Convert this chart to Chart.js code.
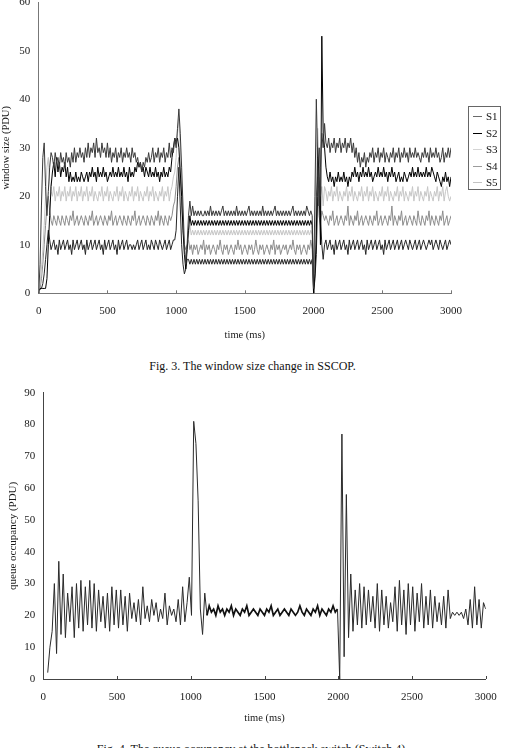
<!DOCTYPE html>
<html><head><meta charset="utf-8">
<script src="https://cdn.jsdelivr.net/npm/chart.js@4.4.1/dist/chart.umd.min.js"></script>
<style>
html,body{margin:0;padding:0;background:#fff;}
body{width:505px;height:748px;position:relative;overflow:hidden;font-family:"Liberation Serif","Times New Roman",serif;color:#111;}
canvas{position:absolute;left:0;}
#c1{top:0;}
#c2{top:380px;}
.cap{position:absolute;left:0;width:505px;text-align:center;font-size:12px;line-height:14px;white-space:nowrap;}
#legend{position:absolute;left:468px;top:106px;width:33px;height:84px;border:1px solid #666;box-sizing:border-box;}
.li{position:absolute;left:0;width:31px;height:16px;font-size:11px;line-height:16px;}
.sw{position:absolute;left:4px;top:8px;width:9px;height:1px;}
.lt{position:absolute;left:17px;top:0;}
</style></head>
<body>
<canvas id="c1" width="505" height="345"></canvas>
<div id="legend"></div>
<div class="cap" style="top:359px;">Fig. 3. The window size change in SSCOP.</div>
<canvas id="c2" width="505" height="350"></canvas>
<div class="cap" style="top:742px;">Fig. 4. The queue occupancy at the bottleneck switch (Switch 4).</div>
<script>
// ---- sampling grids (ms) ----
const stepTop = 10;    // window-size samples, 0..3000
const stepQueue = 15;  // queue samples, 0..3000
const timesTop = Array.from({length: 301}, (_, i) => i * stepTop);
const timesQueue = Array.from({length: 201}, (_, i) => i * stepQueue);

const seriesNames = ['S1', 'S2', 'S3', 'S4', 'S5'];

// ---- Fig. 3 window sizes (PDU), one row = 200 ms ----
const s1 = [
 0, 6, 18, 28, 31, 22, 16, 21, 26, 29, 28, 26, 29, 27, 28, 26, 29, 27, 28, 26,
 29, 27, 28, 26, 29, 27, 30, 27, 29, 28, 30, 28, 29, 27, 30, 28, 31, 28, 30, 29,
 31, 28, 32, 29, 30, 28, 31, 29, 30, 28, 31, 28, 30, 27, 29, 28, 30, 27, 29, 28,
 30, 27, 29, 28, 30, 28, 29, 27, 30, 28, 29, 27, 28, 26, 27, 25, 27, 26, 28, 27,
 29, 27, 28, 30, 27, 29, 28, 30, 27, 29, 28, 30, 27, 29, 28, 31, 28, 30, 29, 32,
 30, 34, 38, 33, 26, 18, 10, 6, 10, 16, 19, 16, 18, 16, 17, 16, 17, 16, 17, 16,
 16, 17, 16, 17, 16, 18, 16, 17, 16, 17, 16, 17, 16, 17, 18, 16, 17, 16, 17, 16,
 17, 16, 17, 16, 18, 16, 17, 16, 17, 16, 17, 16, 17, 18, 16, 17, 16, 17, 16, 17,
 16, 17, 16, 18, 16, 17, 16, 17, 16, 17, 16, 17, 18, 16, 17, 16, 17, 16, 17, 16,
 17, 16, 17, 16, 17, 18, 16, 17, 16, 17, 16, 17, 16, 17, 16, 18, 17, 16, 17, 16,
 1, 20, 40, 28, 18, 26, 33, 30, 35, 31, 30, 32, 29, 31, 30, 32, 29, 31, 30, 32,
 29, 31, 30, 32, 29, 31, 30, 32, 29, 31, 28, 30, 27, 29, 26, 28, 27, 29, 26, 28,
 27, 29, 28, 30, 27, 29, 28, 30, 27, 29, 28, 30, 27, 29, 28, 27, 29, 28, 30, 27,
 29, 28, 30, 27, 29, 28, 30, 28, 29, 27, 30, 28, 29, 28, 30, 28, 29, 28, 27, 29,
 28, 30, 28, 29, 27, 30, 28, 29, 28, 30, 28, 29, 27, 28, 30, 27, 29, 28, 30, 28,
 30];

const s2 = [
 0, 1, 1, 1, 1, 1, 3, 10, 16, 22, 25, 27, 24, 28, 25, 27, 24, 26, 25, 27,
 24, 26, 23, 25, 23, 24, 23, 25, 23, 24, 23, 25, 24, 23, 24, 25, 23, 25, 24, 26,
 24, 25, 23, 26, 24, 25, 24, 26, 24, 25, 23, 24, 25, 24, 26, 24, 25, 24, 26, 24,
 25, 24, 26, 24, 25, 23, 26, 24, 25, 24, 26, 25, 27, 26, 27, 25, 26, 24, 26, 25,
 24, 26, 24, 25, 24, 26, 24, 25, 23, 25, 24, 26, 24, 25, 24, 26, 25, 28, 30, 32,
 31, 32, 30, 25, 20, 13, 8, 5, 9, 13, 16, 14, 15, 14, 15, 14, 15, 14, 15, 14,
 15, 14, 15, 14, 15, 14, 15, 14, 15, 14, 15, 14, 15, 14, 15, 14, 15, 14, 15, 14,
 15, 14, 15, 14, 15, 14, 15, 14, 15, 14, 15, 14, 15, 14, 15, 14, 15, 14, 15, 14,
 15, 14, 15, 14, 15, 14, 15, 14, 15, 14, 15, 14, 15, 14, 15, 14, 15, 14, 15, 14,
 15, 14, 15, 14, 15, 14, 15, 14, 15, 14, 15, 14, 15, 14, 15, 14, 15, 14, 15, 14,
 0, 4, 12, 30, 24, 10, 53, 33, 30, 26, 24, 23, 25, 23, 24, 22, 24, 23, 25, 23,
 24, 23, 25, 23, 24, 22, 24, 23, 25, 24, 26, 24, 25, 23, 25, 24, 26, 24, 25, 24,
 26, 24, 25, 23, 24, 25, 24, 26, 24, 25, 24, 26, 24, 25, 23, 25, 24, 26, 24, 25,
 23, 24, 25, 23, 24, 23, 25, 24, 23, 24, 25, 24, 26, 24, 25, 24, 26, 24, 25, 24,
 25, 24, 26, 24, 25, 24, 26, 25, 24, 23, 25, 24, 23, 22, 24, 23, 25, 23, 24, 22,
 24];

const s3 = [
 0, 2, 5, 9, 14, 20, 26, 28, 23, 21, 20, 22, 19, 21, 20, 22, 19, 21, 20, 22,
 19, 21, 20, 22, 19, 21, 20, 22, 19, 21, 20, 22, 19, 21, 20, 22, 19, 21, 20, 22,
 19, 21, 20, 19, 21, 20, 22, 19, 21, 20, 22, 19, 21, 20, 19, 21, 20, 22, 19, 21,
 20, 22, 19, 21, 20, 19, 21, 20, 22, 19, 21, 20, 22, 19, 21, 20, 19, 21, 20, 22,
 19, 21, 20, 22, 19, 21, 20, 19, 21, 20, 22, 19, 21, 20, 22, 19, 21, 22, 24, 25,
 28, 33, 36, 30, 22, 14, 9, 7, 9, 12, 14, 12, 13, 12, 13, 12, 13, 12, 13, 12,
 13, 12, 13, 12, 13, 12, 13, 12, 13, 12, 13, 12, 13, 12, 13, 12, 13, 12, 13, 12,
 13, 12, 13, 12, 13, 12, 13, 12, 13, 12, 13, 12, 13, 12, 13, 12, 13, 12, 13, 12,
 13, 12, 13, 12, 13, 12, 13, 12, 13, 12, 13, 12, 13, 12, 13, 12, 13, 12, 13, 12,
 13, 12, 13, 12, 13, 12, 13, 12, 13, 12, 13, 12, 13, 12, 13, 12, 13, 12, 13, 12,
 2, 14, 30, 34, 26, 20, 22, 18, 22, 21, 19, 21, 20, 22, 19, 21, 20, 22, 19, 21,
 20, 19, 21, 20, 22, 19, 21, 20, 22, 19, 21, 20, 19, 21, 20, 22, 19, 21, 20, 22,
 19, 21, 20, 22, 19, 21, 20, 19, 21, 20, 22, 19, 21, 20, 22, 19, 21, 20, 19, 21,
 20, 22, 19, 21, 20, 22, 19, 21, 20, 19, 21, 20, 22, 19, 21, 20, 22, 19, 21, 20,
 19, 21, 20, 22, 19, 21, 20, 19, 21, 20, 22, 19, 21, 20, 22, 19, 21, 22, 20, 19,
 20];

const s4 = [
 0, 1, 3, 6, 10, 14, 18, 20, 17, 15, 14, 16, 15, 14, 16, 15, 14, 16, 15, 14,
 16, 15, 14, 16, 15, 17, 14, 15, 16, 14, 15, 16, 15, 14, 16, 15, 14, 16, 15, 17,
 14, 15, 16, 14, 15, 16, 15, 14, 16, 15, 14, 16, 15, 17, 14, 15, 16, 14, 15, 16,
 15, 14, 16, 15, 14, 16, 15, 14, 16, 15, 17, 14, 15, 16, 14, 15, 16, 15, 14, 16,
 15, 14, 16, 15, 14, 16, 15, 17, 14, 16, 15, 14, 16, 15, 14, 16, 15, 16, 18, 19,
 22, 26, 28, 24, 18, 13, 10, 9, 10, 11, 9, 10, 8, 10, 9, 10, 8, 9, 10, 9,
 11, 8, 10, 9, 10, 8, 9, 10, 9, 8, 10, 9, 11, 9, 8, 10, 9, 10, 8, 9,
 10, 9, 8, 10, 9, 11, 9, 10, 8, 9, 10, 9, 8, 10, 9, 10, 8, 9, 11, 9,
 8, 10, 9, 10, 8, 9, 10, 9, 8, 10, 9, 11, 8, 10, 9, 10, 8, 9, 10, 9,
 10, 8, 9, 10, 9, 11, 9, 8, 10, 9, 10, 8, 9, 10, 9, 8, 10, 9, 11, 9,
 3, 10, 20, 24, 16, 14, 17, 16, 15, 16, 15, 14, 16, 15, 17, 14, 15, 16, 14, 15,
 16, 15, 14, 16, 15, 18, 14, 16, 15, 14, 16, 15, 17, 14, 15, 16, 14, 15, 16, 15,
 14, 16, 15, 14, 16, 15, 17, 14, 15, 16, 14, 15, 16, 15, 14, 16, 15, 18, 14, 16,
 15, 14, 16, 15, 17, 14, 15, 16, 14, 15, 16, 15, 14, 16, 15, 14, 17, 15, 14, 16,
 15, 14, 16, 15, 17, 14, 16, 15, 14, 16, 15, 14, 16, 15, 17, 14, 15, 16, 14, 15,
 16];

const s5 = [
 0, 1, 1, 2, 4, 7, 10, 13, 11, 9, 10, 11, 9, 10, 8, 11, 9, 10, 11, 9,
 10, 11, 9, 10, 8, 11, 9, 10, 11, 9, 10, 11, 9, 10, 8, 11, 9, 10, 11, 9,
 10, 11, 9, 10, 11, 9, 10, 8, 11, 9, 10, 11, 9, 10, 11, 9, 10, 8, 11, 9,
 10, 11, 9, 10, 11, 9, 10, 10, 9, 10, 9, 10, 11, 9, 10, 11, 9, 10, 11, 9,
 10, 9, 11, 10, 9, 11, 10, 9, 11, 10, 9, 10, 11, 9, 10, 11, 9, 10, 11, 11,
 13, 20, 26, 18, 10, 6, 4, 5, 7, 7, 6, 7, 6, 7, 6, 7, 6, 7, 6, 7,
 6, 7, 6, 7, 6, 7, 6, 7, 6, 7, 6, 7, 6, 7, 6, 7, 6, 7, 6, 7,
 6, 7, 6, 7, 6, 7, 6, 7, 6, 7, 6, 7, 6, 7, 6, 7, 6, 7, 6, 7,
 6, 7, 6, 7, 6, 7, 6, 7, 6, 7, 6, 7, 6, 7, 6, 7, 6, 7, 6, 7,
 6, 7, 6, 7, 6, 7, 6, 7, 6, 7, 6, 7, 6, 7, 6, 7, 6, 7, 6, 7,
 0, 3, 8, 20, 30, 16, 10, 7, 10, 11, 9, 10, 11, 9, 10, 8, 11, 9, 10, 11,
 9, 10, 11, 9, 10, 8, 11, 9, 10, 11, 9, 10, 11, 9, 10, 11, 9, 10, 8, 11,
 9, 10, 11, 9, 10, 11, 9, 10, 11, 9, 10, 8, 11, 9, 10, 11, 9, 10, 11, 9,
 10, 11, 9, 10, 11, 9, 10, 11, 10, 9, 11, 10, 9, 10, 11, 9, 10, 11, 9, 10,
 11, 10, 9, 10, 11, 10, 11, 9, 10, 11, 10, 9, 11, 10, 9, 10, 11, 9, 10, 11,
 10];

// ---- Fig. 4 queue occupancy (PDU), one row = 300 ms ----
const queue = [
 null, null, 2, 10, 15, 30, 8, 37, 14, 33, 13, 27, 18, 29, 13, 30, 16, 31, 15, 29,
 17, 31, 16, 30, 15, 28, 18, 26, 16, 27, 15, 29, 17, 28, 16, 28, 17, 26, 15, 27,
 19, 24, 18, 25, 17, 29, 19, 23, 18, 25, 20, 24, 18, 22, 19, 27, 17, 23, 20, 22,
 18, 25, 17, 29, 18, 24, 32, 20, 81, 74, 56, 22, 14, 27, 20, 23, 21, 22, 20, 23,
 21, 22, 20, 22, 21, 23, 20, 22, 21, 20, 22, 21, 23, 20, 21, 22, 21, 20, 22, 21,
 20, 22, 21, 23, 20, 21, 22, 20, 21, 22, 21, 20, 22, 21, 20, 21, 23, 21, 20, 22,
 21, 20, 22, 21, 23, 20, 22, 21, 20, 22, 21, 23, 21, 22, 0, 77, 7, 58, 13, 33,
 15, 28, 17, 30, 16, 29, 17, 28, 18, 26, 16, 30, 15, 28, 17, 26, 16, 24, 18, 29,
 15, 31, 17, 28, 14, 30, 17, 29, 15, 27, 18, 30, 16, 26, 17, 28, 16, 26, 18, 24,
 17, 26, 16, 28, 19, 21, 20, 21, 20, 21, 19, 22, 17, 25, 16, 29, 17, 25, 16, 24,
 22];

// ---- styles ----
const lineColors = ['#3a3a3a', '#000000', '#c6c6c6', '#8c8c8c', '#262626'];
const legendColors = ['#6a6a6a', '#000000', '#d4d4d4', '#9c9c9c', '#c2c2c2'];
const FONT = "'Liberation Serif', 'Times New Roman', serif";

Chart.defaults.font.family = FONT;
Chart.defaults.color = '#1a1a1a';

const toPts = (arr, times) => arr.map((v, i) => ({x: times[i], y: v}));

const innerTicks = {
  id: 'innerTicks',
  afterDraw(chart, args, opts) {
    const {ctx, chartArea, scales} = chart;
    ctx.save();
    ctx.strokeStyle = opts.color || '#444';
    ctx.lineWidth = 1;
    scales.x.ticks.forEach((t, i) => {
      const px = Math.round(scales.x.getPixelForTick(i)) + 0.5;
      ctx.beginPath();
      ctx.moveTo(px, chartArea.bottom);
      ctx.lineTo(px, chartArea.bottom - (opts.len || 3));
      ctx.stroke();
    });
    ctx.restore();
  }
};

function makeChart(id, datasets, cfg) {
  return new Chart(document.getElementById(id), {
    type: 'line',
    data: {datasets},
    options: {
      responsive: false,
      animation: false,
      devicePixelRatio: 1,
      layout: {padding: cfg.padding},
      elements: {point: {radius: 0}, line: {tension: 0}},
      plugins: {
        legend: {display: false},
        tooltip: {enabled: false},
        innerTicks: {color: cfg.axisColor, len: 3}
      },
      scales: {
        x: {
          type: 'linear', min: 0, max: 3000,
          ticks: {stepSize: 500, font: {size: 11}, padding: cfg.xTickPad, maxRotation: 0, color: '#1a1a1a', callback: v => String(v)},
          grid: {display: true, drawOnChartArea: false, drawTicks: false},
          border: {display: true, color: cfg.axisColor, width: 1},
          title: {display: true, text: 'time (ms)', font: {size: 10.5}, padding: {top: 0, bottom: cfg.xTitlePad}, color: '#1a1a1a'},
          afterFit: s => { s.height = cfg.xAxisH; s.paddingLeft = 0; s.paddingRight = 0; }
        },
        y: {
          type: 'linear', min: 0, max: cfg.yMax,
          ticks: {stepSize: 10, font: {size: 11}, padding: cfg.yTickPad, color: '#1a1a1a', callback: v => String(v)},
          grid: {display: true, drawOnChartArea: false, drawTicks: false},
          border: {display: true, color: cfg.axisColor, width: 1},
          title: {display: true, text: cfg.yTitle, font: {size: cfg.yTitleSize}, padding: {top: cfg.yTitlePad, bottom: 0}, color: '#1a1a1a'},
          afterFit: s => { s.width = cfg.yAxisW; s.paddingTop = 0; s.paddingBottom = 0; }
        }
      }
    },
    plugins: [innerTicks]
  });
}

const topSeries = [s1, s2, s3, s4, s5];
const topSets = topSeries.map((arr, k) => ({
  label: seriesNames[k],
  data: toPts(arr, timesTop),
  borderColor: lineColors[k],
  borderWidth: 1,
  fill: false
}));

makeChart('c1', topSets, {
  padding: {left: 0, top: 2.2, right: 54, bottom: 0},
  yMax: 60, yAxisW: 38.7, xAxisH: 51.7,
  xTickPad: 11.5, yTickPad: 8.5, xTitlePad: 3.7, yTitlePad: 0.4,
  yTitle: 'window size (PDU)', yTitleSize: 10.5, axisColor: '#777'
});

// steady-state stretch between the two load changes is drawn a bit heavier, as in the figure
const steadyFrom = 1110, steadyTo = 1995;
makeChart('c2', [{
  label: 'queue',
  data: toPts(queue, timesQueue),
  borderColor: '#1e1e1e',
  borderWidth: 1,
  segment: {
    borderWidth: c => (c.p0.parsed.x >= steadyFrom && c.p1.parsed.x <= steadyTo) ? 1.7 : 1,
    borderColor: c => (c.p0.parsed.x >= steadyFrom && c.p1.parsed.x <= steadyTo) ? '#111' : '#2a2a2a'
  },
  fill: false
}], {
  padding: {left: 0, top: 12.7, right: 19.3, bottom: 0},
  yMax: 90, yAxisW: 43.3, xAxisH: 51,
  xTickPad: 12, yTickPad: 8, xTitlePad: 5.4, yTitlePad: 6.1,
  yTitle: 'queue occupancy (PDU)', yTitleSize: 11, axisColor: '#444'
});

// HTML legend for the top chart
const lg = document.getElementById('legend');
seriesNames.forEach((name, k) => {
  const it = document.createElement('div');
  it.className = 'li';
  it.style.top = (1 + 16.5 * k) + 'px';
  const sw = document.createElement('div');
  sw.className = 'sw';
  sw.style.background = legendColors[k];
  const tx = document.createElement('div');
  tx.className = 'lt';
  tx.textContent = name;
  it.appendChild(sw); it.appendChild(tx);
  lg.appendChild(it);
});
</script>
</body></html>
